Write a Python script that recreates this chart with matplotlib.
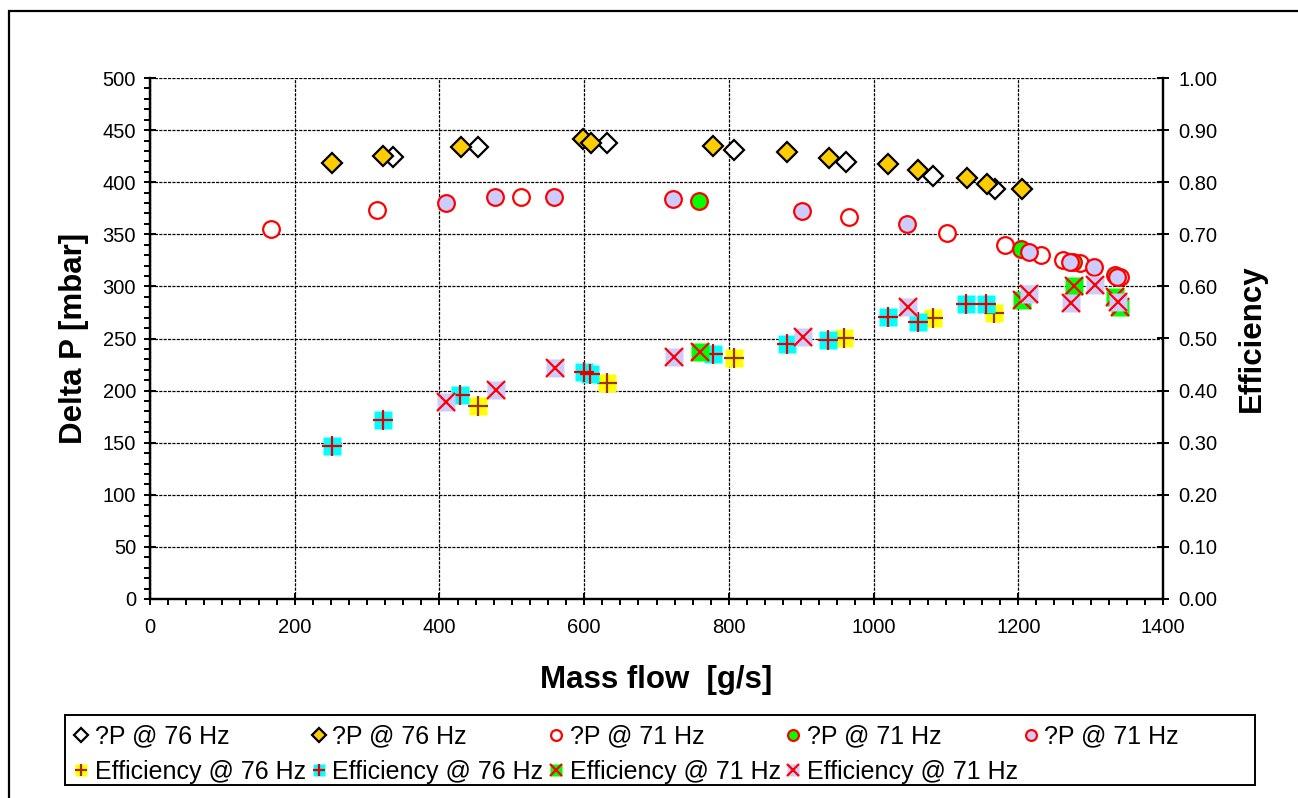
import matplotlib
matplotlib.use("Agg")
import matplotlib.pyplot as plt
from matplotlib.patches import Rectangle
from matplotlib.ticker import MultipleLocator, FormatStrFormatter

plt.rcParams['font.family'] = ['Liberation Sans', 'DejaVu Sans']

# dP @ 76 Hz (open diamonds)
dp76_open_x = [336, 453, 632, 807, 962, 1082, 1168]
dp76_open_y = [424, 434, 438, 431, 419, 406, 393]
# dP @ 76 Hz (gold diamonds)
dp76_fill_x = [251, 322, 430, 598, 609, 778, 880, 938, 1020, 1061, 1129, 1157, 1205]
dp76_fill_y = [418, 425, 434, 441, 438, 435, 429, 423, 417, 412, 404, 398, 393]
# dP @ 71 Hz (open red circles)
dp71_open_x = [167, 314, 513, 966, 1101, 1182, 1231, 1262, 1285, 1341]
dp71_open_y = [355, 373, 386, 367, 351, 340, 330, 325, 322, 309]
# dP @ 71 Hz (green circles)
dp71_green_x = [759, 1204, 1276, 1334]
dp71_green_y = [382, 336, 323, 311]
# dP @ 71 Hz (lavender circles)
dp71_lav_x = [409, 477, 558, 723, 901, 1046, 1215, 1271, 1305, 1336]
dp71_lav_y = [380, 386, 386, 384, 372, 360, 333, 323, 319, 309]

# Efficiency @ 76 Hz (yellow)
eff76_yel_x = [453, 632, 807, 959, 1082, 1167]
eff76_yel_y = [0.370, 0.415, 0.463, 0.501, 0.540, 0.549]
# Efficiency @ 76 Hz (cyan)
eff76_cyan_x = [251, 322, 428, 600, 608, 778, 880, 937, 1020, 1061, 1128, 1156]
eff76_cyan_y = [0.294, 0.344, 0.392, 0.436, 0.432, 0.470, 0.490, 0.497, 0.541, 0.531, 0.566, 0.566]
# Efficiency @ 71 Hz (green)
eff71_green_x = [760, 1205, 1277, 1334, 1340]
eff71_green_y = [0.474, 0.574, 0.601, 0.580, 0.560]
# Efficiency @ 71 Hz (lavender)
eff71_lav_x = [409, 478, 560, 724, 902, 1048, 1215, 1273, 1306, 1338]
eff71_lav_y = [0.378, 0.401, 0.443, 0.464, 0.503, 0.561, 0.585, 0.568, 0.603, 0.570]

W, H = 1298, 798
fig = plt.figure(figsize=(W / 100, H / 100), dpi=100)
ax = fig.add_axes([150 / W, 1 - 599 / H, (1163 - 150) / W, (599 - 78) / H])
ax2 = ax.twinx()

# outer frame
fig.patches.append(Rectangle((9 / W, -0.1), 1.2, 1.1 - 11 / H, transform=fig.transFigure,
                             fill=False, lw=1.6, edgecolor='black'))
# legend box
fig.patches.append(Rectangle((65 / W, 1 - 785 / H), (1255 - 65) / W, 70 / H,
                             transform=fig.transFigure, fill=False, lw=1.4, edgecolor='black'))

ms = 12
dm = 10.5
h1, = ax.plot(dp76_open_x, dp76_open_y, 'D', ms=dm, mfc='white', mec='black', mew=1.6, ls='none')
h2, = ax.plot(dp76_fill_x, dp76_fill_y, 'D', ms=dm, mfc='#FFCC00', mec='black', mew=1.6, ls='none')
h3, = ax.plot(dp71_open_x, dp71_open_y, 'o', ms=ms, mfc='white', mec='red', mew=1.6, ls='none')
h4, = ax.plot(dp71_green_x, dp71_green_y, 'o', ms=ms, mfc='#00FF00', mec='red', mew=1.6, ls='none')
h5, = ax.plot(dp71_lav_x, dp71_lav_y, 'o', ms=ms, mfc='#CCCCFF', mec='red', mew=1.6, ls='none')

sq = 13
s6, = ax2.plot(eff76_yel_x, eff76_yel_y, 's', ms=sq, mfc='#FFFF00', mec='none', ls='none')
p6, = ax2.plot(eff76_yel_x, eff76_yel_y, '+', ms=14, mec='#993300', mew=1.6, ls='none')
s7, = ax2.plot(eff76_cyan_x, eff76_cyan_y, 's', ms=sq, mfc='#00FFFF', mec='none', ls='none')
p7, = ax2.plot(eff76_cyan_x, eff76_cyan_y, '+', ms=14, mec='#E00000', mew=1.6, ls='none')
s8, = ax2.plot(eff71_green_x, eff71_green_y, 's', ms=sq, mfc='#00FF00', mec='none', ls='none')
p8, = ax2.plot(eff71_green_x, eff71_green_y, 'x', ms=13, mec='red', mew=1.6, ls='none')
s9, = ax2.plot(eff71_lav_x, eff71_lav_y, 's', ms=sq, mfc='#CCCCFF', mec='none', ls='none')
p9, = ax2.plot(eff71_lav_x, eff71_lav_y, 'x', ms=13, mec='red', mew=1.6, ls='none')

ax.set_xlim(0, 1400)
ax.set_ylim(0, 500)
ax2.set_ylim(0, 1.0)

ax.xaxis.set_major_locator(MultipleLocator(200))
ax.xaxis.set_minor_locator(MultipleLocator(25))
ax.yaxis.set_major_locator(MultipleLocator(50))
ax.yaxis.set_minor_locator(MultipleLocator(10))
ax2.yaxis.set_major_locator(MultipleLocator(0.1))
ax2.yaxis.set_major_formatter(FormatStrFormatter('%.2f'))

ax.grid(True, which='major', color='black', ls=(0, (2.5, 1)), lw=0.9)
ax.set_axisbelow(True)

for a in (ax, ax2):
    a.spines['top'].set_visible(False)
    for s in ('left', 'bottom', 'right'):
        a.spines[s].set_linewidth(1.6)

ax.tick_params(which='major', direction='inout', length=8, width=1.4, labelsize=14.5)
ax.tick_params(which='minor', direction='out', length=4, width=1.4)
ax.tick_params(axis='y', which='major', pad=6)
ax.tick_params(axis='x', which='major', pad=10)
ax2.tick_params(which='major', direction='inout', length=8, width=1.4, labelsize=14.5, pad=7)

ax.set_xlabel('Mass flow  [g/s]', fontsize=22.5, fontweight='bold', labelpad=20)
ax.set_ylabel('Delta P [mbar]', fontsize=22.5, fontweight='bold', labelpad=10)
ax2.set_ylabel('Efficiency', fontsize=22.5, fontweight='bold', labelpad=14)

# legend, column-major order to reproduce the two rows
handles = [h1, (s6, p6), h2, (s7, p7), h3, (s8, p8), h4, (s9, p9), h5]
labels = ['?P @ 76 Hz', 'Efficiency @ 76 Hz', '?P @ 76 Hz', 'Efficiency @ 76 Hz',
          '?P @ 71 Hz', 'Efficiency @ 71 Hz', '?P @ 71 Hz', 'Efficiency @ 71 Hz',
          '?P @ 71 Hz']
leg = fig.legend(handles, labels, ncol=5, loc='upper left',
                 bbox_to_anchor=(65 / W, 1 - 717 / H), borderaxespad=0,
                 fontsize=18, markerscale=0.65, handlelength=0.7, handletextpad=0.2,
                 columnspacing=0.15, labelspacing=0.45, borderpad=0.3,
                 frameon=False)

fig.savefig('out.png', dpi=100)
